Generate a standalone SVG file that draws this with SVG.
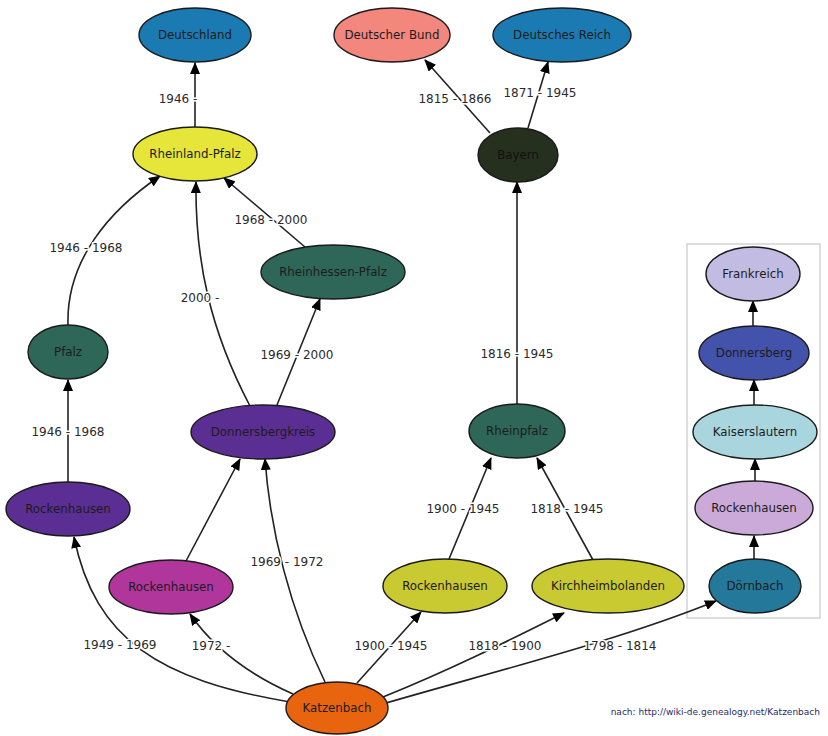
<svg xmlns="http://www.w3.org/2000/svg" width="828" height="736" viewBox="0 0 828 736">
<style>
.n{stroke:#1a1a1a;stroke-width:1.4}
.t{font-family:"DejaVu Sans",sans-serif;font-size:11.8px;fill:#1c1c1c;text-anchor:middle;dominant-baseline:central}
.e{fill:none;stroke:#222;stroke-width:1.6}
.l{font-family:"DejaVu Sans",sans-serif;font-size:12px;fill:#2a2a2a;text-anchor:middle;dominant-baseline:central;stroke:#fff;stroke-width:3;paint-order:stroke}
</style>
<defs>
<marker id="a" markerUnits="userSpaceOnUse" markerWidth="12" markerHeight="10" refX="11" refY="5" orient="auto">
<path d="M0,0 L12,5 L0,10 Z" fill="#000"/>
</marker>
</defs>
<rect width="828" height="736" fill="#fff"/>
<rect x="687" y="244" width="133" height="374" fill="#fff" stroke="#c8c8c8" stroke-width="1.2"/>
<g id="edges">
<path class="e" d="M195,127 L195,63" marker-end="url(#a)"/>
<text class="l" x="178" y="99">1946 -</text>
<path class="e" d="M490,133 L425,60" marker-end="url(#a)"/>
<text class="l" x="455" y="99">1815 - 1866</text>
<path class="e" d="M528,128 L548,62" marker-end="url(#a)"/>
<text class="l" x="540" y="93">1871 - 1945</text>
<path class="e" d="M68,325 C66,260 110,210 160,176" marker-end="url(#a)"/>
<text class="l" x="86" y="248">1946 - 1968</text>
<path class="e" d="M250,406 C210,330 195,260 196,182" marker-end="url(#a)"/>
<text class="l" x="200" y="298">2000 -</text>
<path class="e" d="M305,247 L224,178" marker-end="url(#a)"/>
<text class="l" x="271" y="220">1968 - 2000</text>
<path class="e" d="M277,405 L320,299" marker-end="url(#a)"/>
<text class="l" x="297" y="355">1969 - 2000</text>
<path class="e" d="M517,404 L517,182" marker-end="url(#a)"/>
<text class="l" x="517" y="354">1816 - 1945</text>
<path class="e" d="M68,482 L68,380" marker-end="url(#a)"/>
<text class="l" x="68" y="432">1946 - 1968</text>
<path class="e" d="M186,561 L240,459" marker-end="url(#a)"/>
<path class="e" d="M325,682 C290,610 270,530 265,459" marker-end="url(#a)"/>
<text class="l" x="287" y="562">1969 - 1972</text>
<path class="e" d="M290,702 C160,680 95,640 74,537" marker-end="url(#a)"/>
<text class="l" x="120" y="645">1949 - 1969</text>
<path class="e" d="M293,694 C250,675 215,650 190,614" marker-end="url(#a)"/>
<text class="l" x="211" y="646">1972 -</text>
<path class="e" d="M357,683 L421,612" marker-end="url(#a)"/>
<text class="l" x="391" y="646">1900 - 1945</text>
<path class="e" d="M383,697 C450,670 510,640 564,613" marker-end="url(#a)"/>
<text class="l" x="505" y="646">1818 - 1900</text>
<path class="e" d="M386,703 C500,670 620,640 716,601" marker-end="url(#a)"/>
<text class="l" x="620" y="646">1798 - 1814</text>
<path class="e" d="M449,559 L491,458" marker-end="url(#a)"/>
<text class="l" x="463" y="509">1900 - 1945</text>
<path class="e" d="M593,560 L537,458" marker-end="url(#a)"/>
<text class="l" x="567" y="509">1818 - 1945</text>
<path class="e" d="M754,559 L754,536" marker-end="url(#a)"/>
<path class="e" d="M755,481 L755,459" marker-end="url(#a)"/>
<path class="e" d="M754,405 L754,380" marker-end="url(#a)"/>
<path class="e" d="M753,326 L753,301" marker-end="url(#a)"/>
</g>
<g id="deutschland"><ellipse class="n" cx="195" cy="35" rx="56" ry="27" fill="#1c7ab2"/><text class="t" x="195" y="35">Deutschland</text></g>
<g id="deutscher-bund"><ellipse class="n" cx="392" cy="35" rx="58" ry="27" fill="#f3877e"/><text class="t" x="392" y="35">Deutscher Bund</text></g>
<g id="deutsches-reich"><ellipse class="n" cx="562" cy="35" rx="69" ry="27" fill="#1c7ab2"/><text class="t" x="562" y="35">Deutsches Reich</text></g>
<g id="rheinland-pfalz"><ellipse class="n" cx="195" cy="154" rx="62" ry="27" fill="#e6e63a"/><text class="t" x="195" y="154">Rheinland-Pfalz</text></g>
<g id="bayern"><ellipse class="n" cx="518" cy="155" rx="40" ry="27" fill="#26301f"/><text class="t" x="518" y="155" style="fill:#111">Bayern</text></g>
<g id="rheinhessen-pfalz"><ellipse class="n" cx="333" cy="272" rx="72" ry="27" fill="#2e6657"/><text class="t" x="333" y="272">Rheinhessen-Pfalz</text></g>
<g id="pfalz"><ellipse class="n" cx="68" cy="352" rx="40" ry="27" fill="#2e6657"/><text class="t" x="68" y="352">Pfalz</text></g>
<g id="donnersbergkreis"><ellipse class="n" cx="263" cy="432" rx="72" ry="27" fill="#5b2e93"/><text class="t" x="263" y="432">Donnersbergkreis</text></g>
<g id="rheinpfalz"><ellipse class="n" cx="517" cy="431" rx="48" ry="27" fill="#2e6657"/><text class="t" x="517" y="431">Rheinpfalz</text></g>
<g id="rockenhausen-1"><ellipse class="n" cx="68" cy="509" rx="62" ry="27" fill="#5b2e93"/><text class="t" x="68" y="509">Rockenhausen</text></g>
<g id="rockenhausen-2"><ellipse class="n" cx="171" cy="587" rx="62" ry="27" fill="#b0369c"/><text class="t" x="171" y="587">Rockenhausen</text></g>
<g id="rockenhausen-3"><ellipse class="n" cx="445" cy="586" rx="62" ry="27" fill="#c9c932"/><text class="t" x="445" y="586">Rockenhausen</text></g>
<g id="kirchheimbolanden"><ellipse class="n" cx="608" cy="586" rx="76" ry="27" fill="#c9c932"/><text class="t" x="608" y="586">Kirchheimbolanden</text></g>
<g id="katzenbach"><ellipse class="n" cx="337" cy="708" rx="51" ry="26" fill="#e8640f"/><text class="t" x="337" y="708">Katzenbach</text></g>
<g id="frankreich"><ellipse class="n" cx="753" cy="274" rx="47" ry="27" fill="#c2bce2"/><text class="t" x="753" y="274">Frankreich</text></g>
<g id="donnersberg"><ellipse class="n" cx="754" cy="353" rx="55" ry="27" fill="#4352aa"/><text class="t" x="754" y="353">Donnersberg</text></g>
<g id="kaiserslautern"><ellipse class="n" cx="755" cy="432" rx="62" ry="27" fill="#a9d6de"/><text class="t" x="755" y="432">Kaiserslautern</text></g>
<g id="rockenhausen-4"><ellipse class="n" cx="754" cy="508" rx="59" ry="27" fill="#cba9d9"/><text class="t" x="754" y="508">Rockenhausen</text></g>
<g id="doernbach"><ellipse class="n" cx="755" cy="586" rx="46" ry="27" fill="#24799b"/><text class="t" x="755" y="586">Dörnbach</text></g>
<text x="820" y="715" style="font-family:'DejaVu Sans',sans-serif;font-size:9px;fill:#2a2a6a;text-anchor:end">nach: http://wiki-de.genealogy.net/Katzenbach</text>
</svg>
